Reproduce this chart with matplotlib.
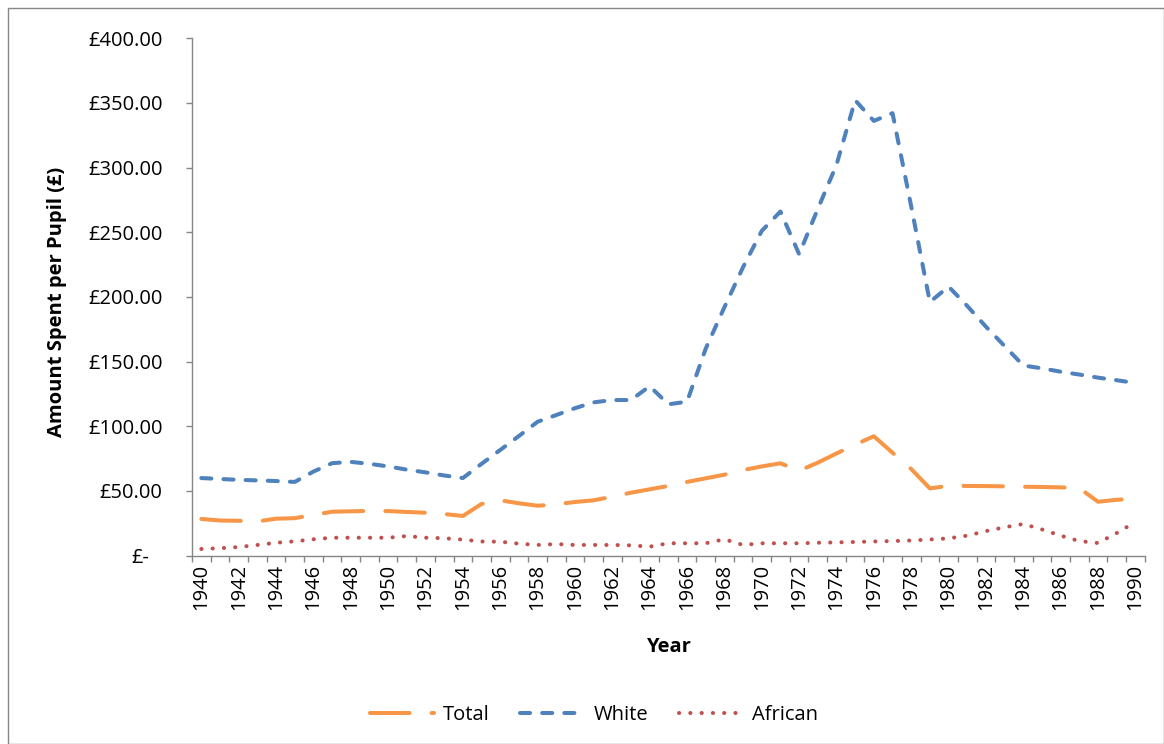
import numpy as np
import matplotlib
matplotlib.use("Agg")
import matplotlib.pyplot as plt
from matplotlib.patches import Rectangle
from matplotlib.transforms import ScaledTranslation

years = list(range(1940, 1991))

total = [28.4, 27.2, 27.0, 26.5, 28.6, 29.0, 31.5, 34.0, 34.3, 34.6,
         34.5, 33.8, 33.2, 32.2, 30.7, 40.0, 42.8, 40.5, 38.6, 39.7,
         41.5, 42.8, 45.6, 48.7, 51.3, 53.9, 57.0, 59.8, 62.6, 66.2,
         69.0, 71.4, 65.7, 71.9, 79.0, 85.8, 92.3, 79.6, 67.0, 52.0,
         54.0, 53.9, 53.8, 53.6, 53.3, 53.1, 52.8, 52.2, 41.7, 43.2,
         44.0]

white = [60.0, 59.3, 58.6, 58.2, 57.7, 57.0, 65.0, 71.5, 72.5, 71.0,
         69.0, 66.5, 64.4, 62.0, 60.0, 71.0, 81.7, 92.5, 103.5, 108.7,
         114.0, 118.5, 120.3, 120.3, 131.0, 117.0, 119.0, 160.0, 192.0, 223.0,
         251.0, 266.0, 233.0, 268.0, 302.0, 352.0, 336.0, 342.0, 270.0, 196.0,
         208.0, 193.0, 177.0, 162.0, 147.0, 144.8, 142.2, 140.0, 137.6, 135.6,
         133.5]

african = [5.2, 5.8, 6.7, 8.3, 10.0, 11.1, 12.7, 13.9, 13.9, 13.9,
           13.9, 15.2, 13.9, 13.5, 12.4, 11.0, 10.8, 9.3, 8.3, 9.0,
           8.3, 8.3, 8.3, 8.0, 7.0, 9.6, 9.6, 9.6, 12.7, 8.3,
           9.6, 9.6, 9.6, 10.0, 10.3, 10.6, 11.0, 11.3, 11.8, 12.5,
           13.4, 15.5, 19.0, 22.0, 24.5, 20.3, 15.5, 11.3, 9.8, 17.5,
           26.0]

y_ticks = [0, 50, 100, 150, 200, 250, 300, 350, 400]
y_labels = ["£-"] + [f"£{v:.2f}" for v in y_ticks[1:]]
x_label_years = years[::2]

plt.rcParams['font.family'] = ['Open Sans', 'DejaVu Sans']
FS = 14.5
GREY = "#868686"

W, H = 1164, 744
fig = plt.figure(figsize=(W / 100, H / 100), dpi=100)
ax = fig.add_axes([192 / W, (H - 555.7) / H, (1144.7 - 192) / W, (555.7 - 38.1) / H])

lw = 2.9
ax.plot(years, total, color="#F79646", lw=lw, dashes=(9.8, 5.5),
        dash_capstyle="round", solid_capstyle="round", label="Total")
ax.plot(years, white, color="#4F81BD", lw=lw, dashes=(2.5, 3.0),
        dash_capstyle="round", label="White")
ax.plot(years, african, color="#C0504D", lw=lw, dashes=(0.05, 2.75),
        dash_capstyle="round", label="African")

ax.set_xlim(1939.5, 1990.5)
ax.set_ylim(0, 400)

for side in ("top", "right"):
    ax.spines[side].set_visible(False)
for side in ("left", "bottom"):
    ax.spines[side].set_color(GREY)
    ax.spines[side].set_linewidth(1.0)

# category boundaries carry tick marks; labels sit at the category centres
ax.set_xticks(np.arange(1939.5, 1991.0, 1.0))
ax.set_xticklabels([])
ax.set_xticks(x_label_years, labels=[str(y) for y in x_label_years], minor=True)
ax.tick_params(axis="x", which="major", direction="out", length=4, width=1, color=GREY)
ax.tick_params(axis="x", which="minor", length=0, pad=6, labelsize=FS, labelrotation=90)

ax.set_yticks(y_ticks, labels=y_labels)
ax.tick_params(axis="y", direction="out", length=4.2, width=1, color=GREY,
               pad=17, labelsize=FS)
zero_lbl = ax.get_yticklabels()[0]
zero_lbl.set_transform(zero_lbl.get_transform() +
                       ScaledTranslation(-0.13, 0, fig.dpi_scale_trans))

ax.set_xlabel("Year", fontsize=FS, fontweight="bold")
ax.xaxis.set_label_coords(0.5, -0.158)
ax.set_ylabel("Amount Spent per Pupil (£)", fontsize=FS, fontweight="bold")
ax.yaxis.set_label_coords(-0.131, 0.49)

fig.legend(loc="center", bbox_to_anchor=(594 / W, (H - 715) / H), ncol=3,
           frameon=False, fontsize=FS, handlelength=3.2, handletextpad=0.45,
           columnspacing=1.5)

fig.patches.append(Rectangle((7.5 / W, 0), (W - 7.5) / W - 0.5 / W, (H - 7.5) / H,
                             transform=fig.transFigure, fill=False,
                             edgecolor=GREY, lw=1.0))

fig.savefig("out.png", dpi=100)
